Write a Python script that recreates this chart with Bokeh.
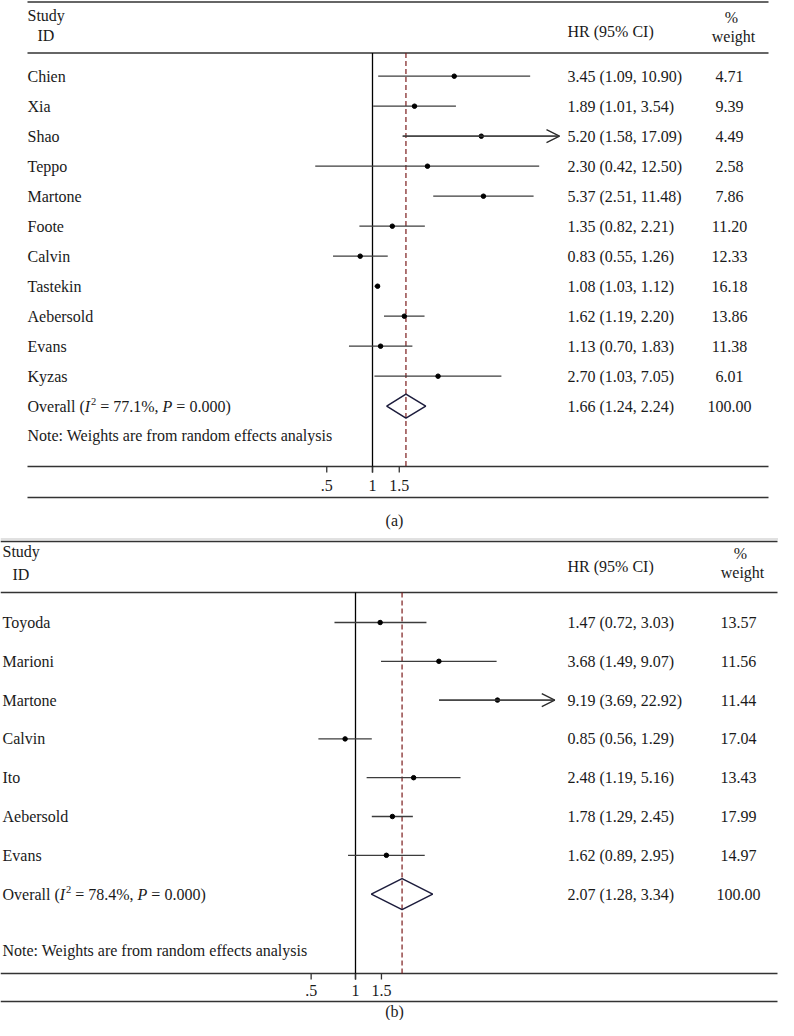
import numpy as np
from bokeh.plotting import figure
from bokeh.models import Range1d, LogScale, Arrow, OpenHead, ColumnDataSource
from bokeh.core.properties import value
from bokeh.embed import file_html
from bokeh.resources import INLINE

# ---------------- data: panel (a) ----------------
study_a = ["Chien", "Xia", "Shao", "Teppo", "Martone", "Foote", "Calvin",
           "Tastekin", "Aebersold", "Evans", "Kyzas"]
hr_a = [3.45, 1.89, 5.20, 2.30, 5.37, 1.35, 0.83, 1.08, 1.62, 1.13, 2.70]
lo_a = [1.09, 1.01, 1.58, 0.42, 2.51, 0.82, 0.55, 1.03, 1.19, 0.70, 1.03]
hi_a = [10.90, 3.54, 17.09, 12.50, 11.48, 2.21, 1.26, 1.12, 2.20, 1.83, 7.05]
wt_a = [4.71, 9.39, 4.49, 2.58, 7.86, 11.20, 12.33, 16.18, 13.86, 11.38, 6.01]
overall_a = {"hr": 1.66, "lo": 1.24, "hi": 2.24, "i2": "77.1%", "p": "0.000", "wt": 100.00}

# ---------------- data: panel (b) ----------------
study_b = ["Toyoda", "Marioni", "Martone", "Calvin", "Ito", "Aebersold", "Evans"]
hr_b = [1.47, 3.68, 9.19, 0.85, 2.48, 1.78, 1.62]
lo_b = [0.72, 1.49, 3.69, 0.56, 1.19, 1.29, 0.89]
hi_b = [3.03, 9.07, 22.92, 1.29, 5.16, 2.45, 2.95]
wt_b = [13.57, 11.56, 11.44, 17.04, 13.43, 17.99, 14.97]
overall_b = {"hr": 2.07, "lo": 1.28, "hi": 3.34, "i2": "78.4%", "p": "0.000", "wt": 100.00}

tick_vals = [0.5, 1.0, 1.5]
tick_labels = [".5", "1", "1.5"]
note_text = "Note: Weights are from random effects analysis"

# ---------------- layout ----------------
FONT = value("Liberation Serif")
FS = 16
TXT = "#1a1a1a"
LINE = "#333333"

W, H = 778, 1020
X0, X1 = 0, W
Y0, Y1 = 0, H

LA = {"rn": "la", "one": 372, "scale": 66.0, "xmax": 17.0,
      "x_name": 27, "x_id": 37, "x_hr": 567, "x_wt": 729, "x_lines": (27, 768),
      "y_top": 1.5, "y_study": 15, "y_id": 35, "y_pct": 17, "y_weight": 36, "y_hrhead": 31,
      "y_head": 52.5, "y0": 75.7, "dy": 30.0, "y_note": 435, "dh": 12,
      "y_axis": 466, "y_tick": 472, "y_ticklab": 485, "y_bottom": 497,
      "x_cap": 394, "y_cap": 520, "cap": "(a)"}
LB = {"rn": "lb", "one": 355, "scale": 64.0, "xmax": 22.5,
      "x_name": 2, "x_id": 12, "x_hr": 567, "x_wt": 738, "x_lines": (0, 777),
      "y_top": 541, "y_study": 551, "y_id": 574, "y_pct": 553, "y_weight": 572, "y_hrhead": 566,
      "y_head": 592, "y0": 622, "dy": 38.8, "y_note": 950, "dh": 15.5,
      "y_axis": 973, "y_tick": 979, "y_ticklab": 990, "y_bottom": 1001,
      "x_cap": 394, "y_cap": 1011, "cap": "(b)"}

p = figure(width=W, height=H, output_backend="svg", toolbar_location=None,
           x_range=Range1d(X0, X1), y_range=Range1d(Y1, Y0),
           x_axis_location=None, y_axis_location=None, min_border=0,
           background_fill_color="white", border_fill_color="white")
p.grid.visible = False
p.outline_line_color = None

p.extra_x_ranges = {
    "la": Range1d(np.exp((X0 - LA["one"]) / LA["scale"]), np.exp((X1 - LA["one"]) / LA["scale"])),
    "lb": Range1d(np.exp((X0 - LB["one"]) / LB["scale"]), np.exp((X1 - LB["one"]) / LB["scale"])),
}
p.extra_x_scales = {"la": LogScale(), "lb": LogScale()}


def text(x, y, s, align="left", size=FS, style="normal", rn="default", color=TXT):
    p.text(x=x, y=y, text=s, text_font=FONT, text_font_size=value(f"{size}px"),
           text_align=align, text_baseline="middle", text_color=color,
           text_font_style=style, x_range_name=rn)


def hline(x0, x1, y, color=LINE, width=1.4):
    p.segment(x0=[x0], x1=[x1], y0=[y], y1=[y], line_color=color, line_width=width)


def overall_label(x, y, ov):
    # "Overall (I^2 = xx%, P = 0.000)" with italic I and P, superscript 2
    em = FS
    text([x], [y], ["Overall ("])
    xi = x + 3.582 * em
    text([xi], [y], ["I"], style="italic")
    x2 = xi + 0.333 * em + 0.8
    text([x2], [y - 5], ["2"], size=10.5)
    xe = x2 + 5.3 + 0.25 * em
    text([xe], [y], [f"= {ov['i2']},"])
    xp = xe + (0.564 + 0.25 + 2.833) * em + 0.25 * em
    text([xp], [y], ["P"], style="italic")
    xq = xp + 0.611 * em + 0.25 * em
    text([xq], [y], [f"= {ov['p']})"])


def panel(L, names, hr, lo, hi, wt, ov):
    rn = L["rn"]
    n = len(names)
    ys = [L["y0"] + i * L["dy"] for i in range(n)]
    y_ov = L["y0"] + n * L["dy"]
    xl0, xl1 = L["x_lines"]

    # table rules
    hline(xl0, xl1, L["y_top"])
    hline(xl0, xl1, L["y_head"])
    hline(xl0, xl1, L["y_axis"])
    hline(xl0, xl1, L["y_bottom"])

    # header
    text([L["x_name"]], [L["y_study"]], ["Study"])
    text([L["x_id"]], [L["y_id"]], ["ID"])
    text([L["x_hr"]], [L["y_hrhead"]], ["HR (95% CI)"])
    text([L["x_wt"] + 2], [L["y_pct"]], ["%"], align="center")
    text([L["x_wt"] + 4], [L["y_weight"]], ["weight"], align="center")

    # null line and overall dashed line
    p.segment(x0=[1.0], x1=[1.0], y0=[L["y_head"]], y1=[L["y_tick"]],
              line_color="black", line_width=1.3, x_range_name=rn)
    p.segment(x0=[ov["hr"]], x1=[ov["hr"]], y0=[L["y_head"]], y1=[L["y_axis"]],
              line_color="#7a1a1a", line_width=1.2, line_dash="5 3", x_range_name=rn)

    # CI lines
    clip = [min(h, L["xmax"]) for h in hi]
    p.segment(x0=lo, x1=clip, y0=ys, y1=ys, line_color="#3c3c3c", line_width=1.3, x_range_name=rn)
    arr = [i for i in range(n) if hi[i] > L["xmax"]]
    if arr:
        src = ColumnDataSource(dict(xs=[lo[i] for i in arr], xe=[clip[i] for i in arr],
                                    y=[ys[i] for i in arr]))
        p.add_layout(Arrow(end=OpenHead(size=13, line_width=1.3, line_color="#2a2a2a"),
                           x_start="xs", x_end="xe", y_start="y", y_end="y", source=src,
                           line_color="#3c3c3c", line_width=1.3, x_range_name=rn))
    p.scatter(x=hr, y=ys, size=4.5, marker="circle", color="black", x_range_name=rn)

    # overall diamond
    p.patch(x=[ov["lo"], ov["hr"], ov["hi"], ov["hr"]],
            y=[y_ov, y_ov - L["dh"], y_ov, y_ov + L["dh"]],
            fill_color=None, line_color="#1c1c3c", line_width=1.5, x_range_name=rn)

    # text columns
    text([L["x_name"]] * n, ys, names)
    text([L["x_hr"]] * n, ys, [f"{h:.2f} ({l:.2f}, {u:.2f})" for h, l, u in zip(hr, lo, hi)])
    text([L["x_wt"]] * n, ys, [f"{w:.2f}" for w in wt], align="center")
    overall_label(L["x_name"], y_ov, ov)
    text([L["x_hr"]], [y_ov], [f"{ov['hr']:.2f} ({ov['lo']:.2f}, {ov['hi']:.2f})"])
    text([L["x_wt"]], [y_ov], [f"{ov['wt']:.2f}"], align="center")
    text([L["x_name"]], [L["y_note"]], [note_text])

    # axis ticks and labels
    p.segment(x0=tick_vals, x1=tick_vals, y0=[L["y_axis"]] * 3, y1=[L["y_tick"]] * 3,
              line_color=LINE, line_width=1.3, x_range_name=rn)
    text(tick_vals, [L["y_ticklab"]] * 3, tick_labels, align="center", rn=rn)

    # caption
    text([L["x_cap"]], [L["y_cap"]], [L["cap"]], align="center")


panel(LA, study_a, hr_a, lo_a, hi_a, wt_a, overall_a)
hline(X0, X1, 538.5, color="#c4c4c4", width=1.2)
panel(LB, study_b, hr_b, lo_b, hi_b, wt_b, overall_b)

open("out.html", "w").write(file_html(p, INLINE))
